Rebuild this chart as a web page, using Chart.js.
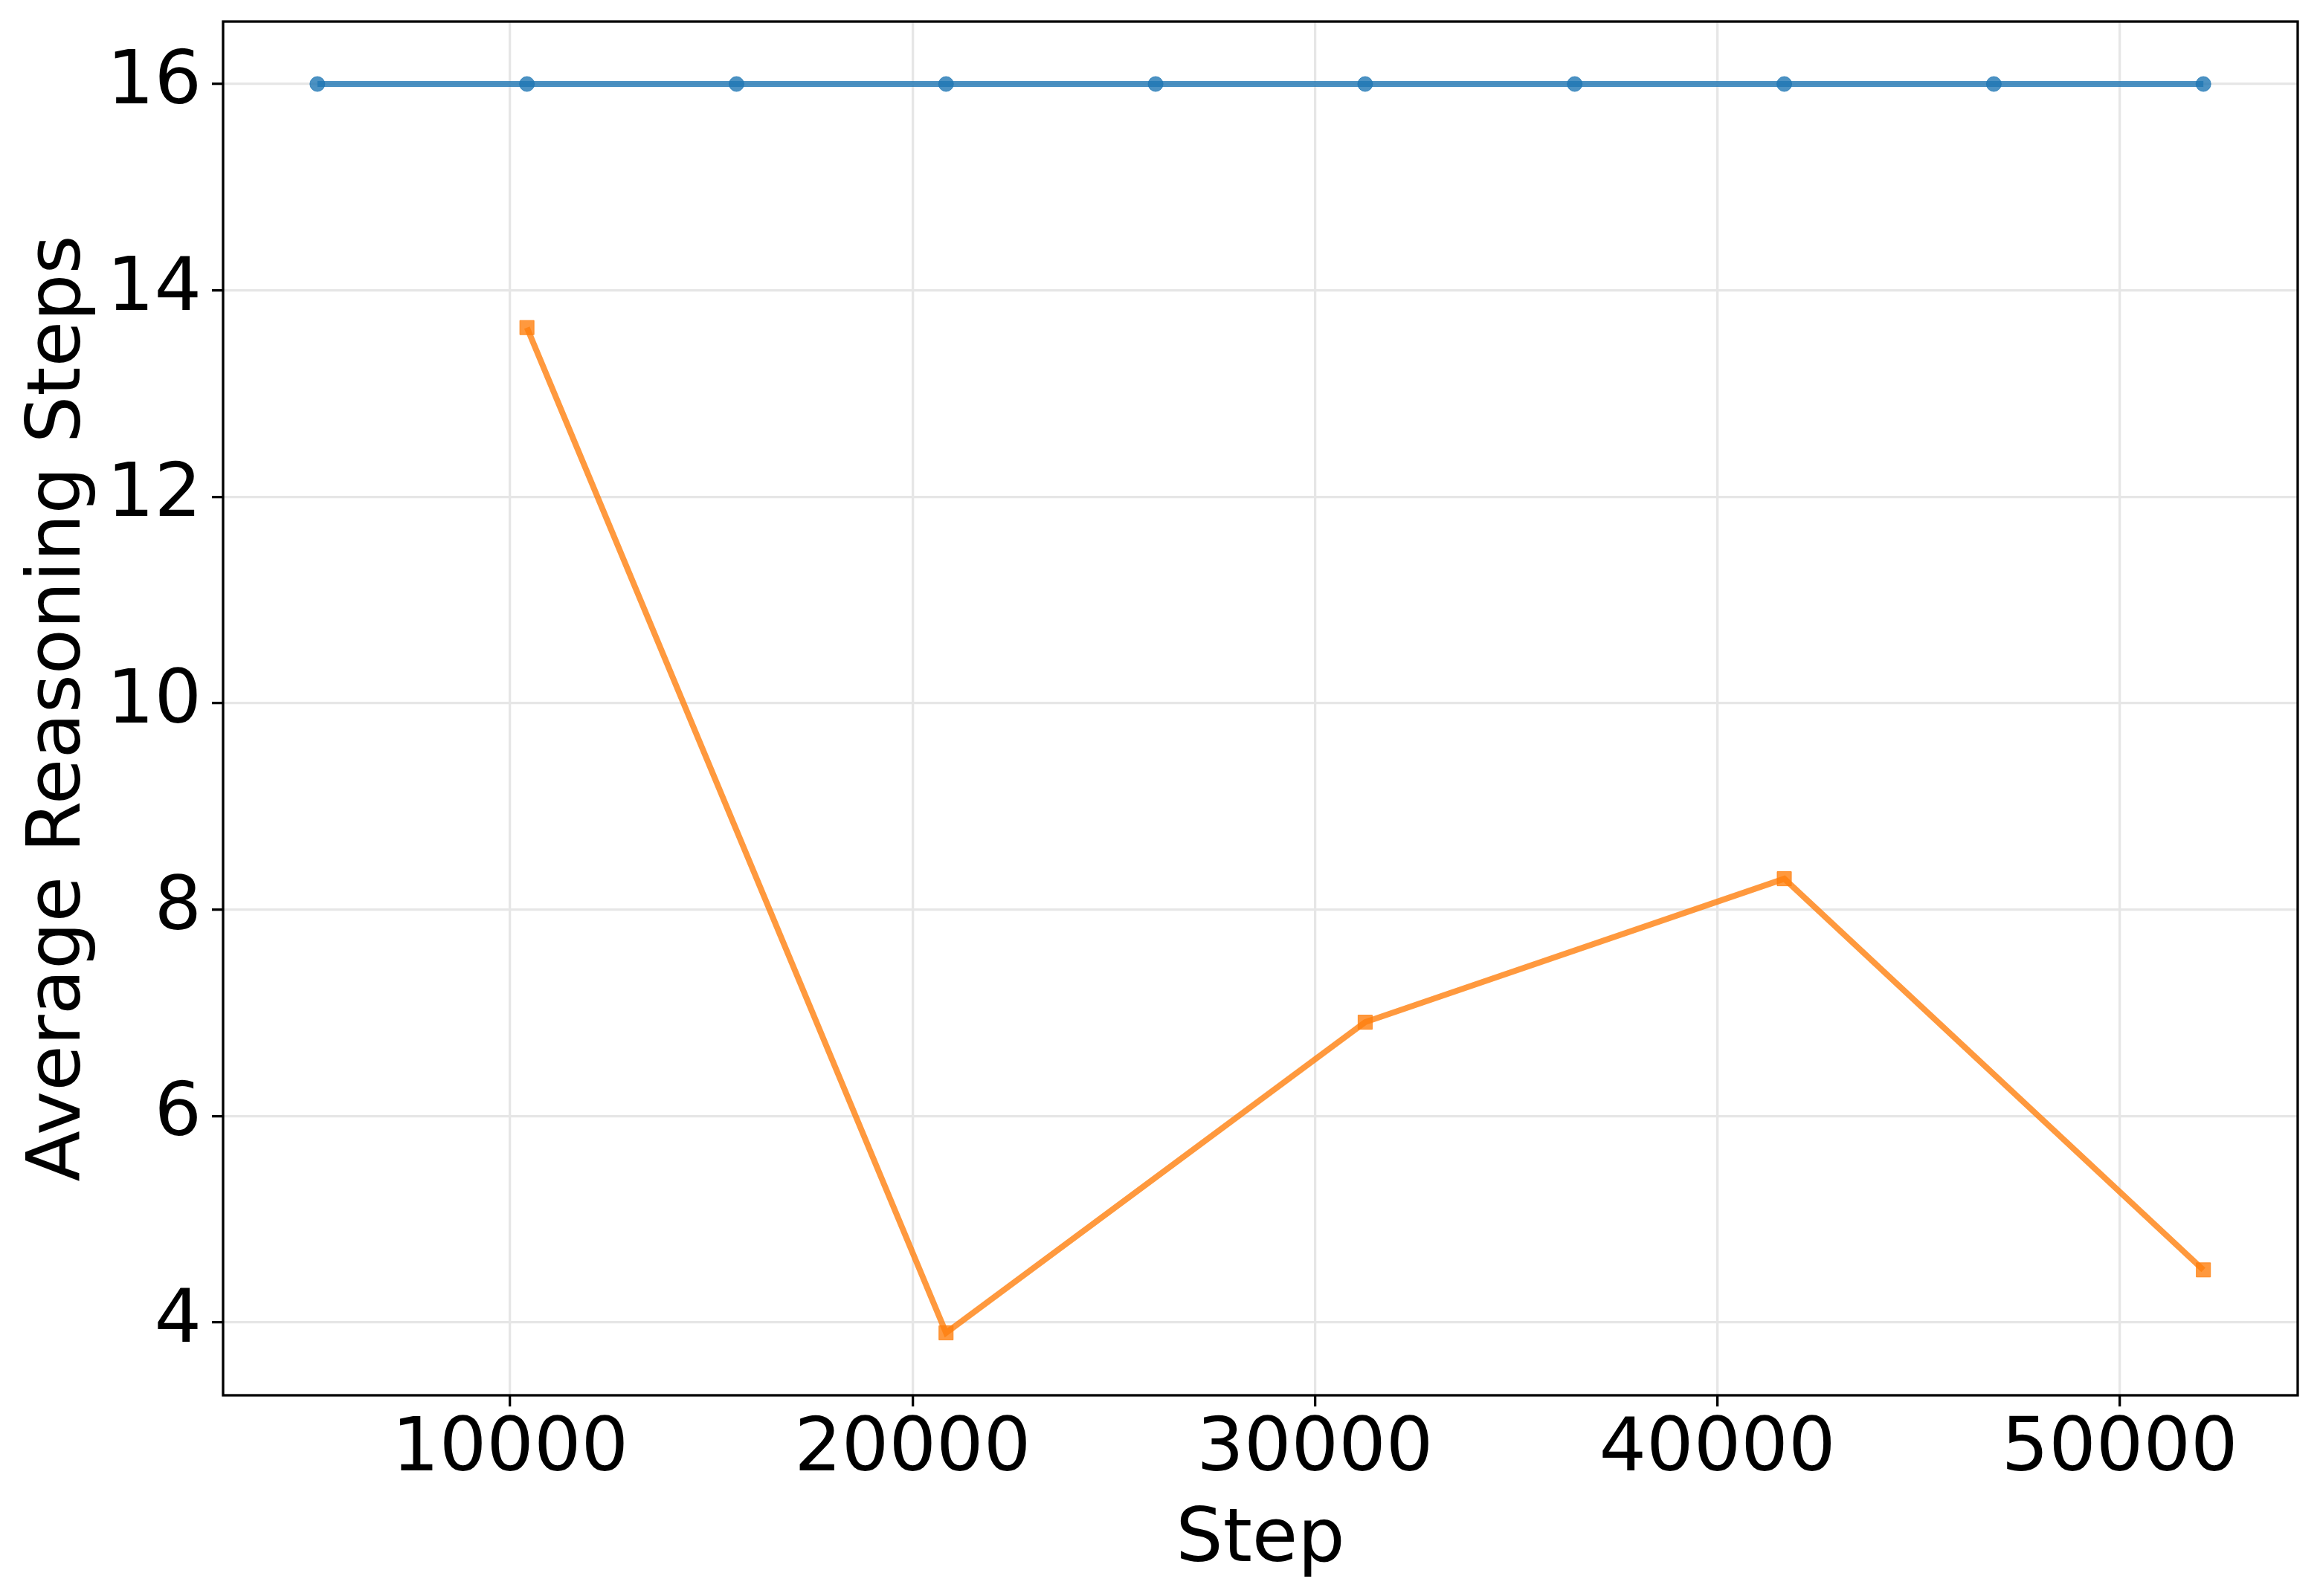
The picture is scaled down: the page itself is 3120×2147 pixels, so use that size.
<!DOCTYPE html>
<html>
<head>
<meta charset="utf-8">
<script src="https://cdn.jsdelivr.net/npm/chart.js@4/dist/chart.umd.min.js"></script>
<style>
  html, body { margin: 0; padding: 0; background: #ffffff; }
  canvas { display: block; }
</style>
</head>
<body>
<canvas id="c" width="3120" height="2147"></canvas>
<script>
// ---- data ----
const stepsBlue = [5208, 10416, 15624, 20832, 26040, 31248, 36456, 41664, 46872, 52080];
const valuesBlue = [16, 16, 16, 16, 16, 16, 16, 16, 16, 16];
const stepsOrange = [10416, 20832, 31248, 41664, 52080];
const valuesOrange = [13.64, 3.90, 6.91, 8.30, 4.51];
const xTickValues = [10000, 20000, 30000, 40000, 50000];
const yTickValues = [4, 6, 8, 10, 12, 14, 16];
const xTitle = 'Step';
const yTitle = 'Average Reasoning Steps';

const FONT = 'DejaVu Sans';
const blue = 'rgba(31,119,180,0.8)';
const orange = 'rgba(255,127,14,0.8)';
const gridColor = '#e6e6e6';

const frame = {
  id: 'frame',
  afterDatasetsDraw(chart) {
    const a = chart.chartArea, ctx = chart.ctx;
    ctx.save();
    ctx.strokeStyle = '#000';
    ctx.lineWidth = 3.3;
    ctx.strokeRect(a.left, a.top, a.right - a.left, a.bottom - a.top);
    ctx.restore();
  }
};

new Chart(document.getElementById('c'), {
  type: 'line',
  data: {
    datasets: [
      {
        data: stepsBlue.map((s, i) => ({ x: s, y: valuesBlue[i] })),
        borderColor: blue,
        backgroundColor: blue,
        borderWidth: 8,
        pointStyle: 'circle',
        pointRadius: 10,
        pointBackgroundColor: blue,
        pointBorderColor: blue,
        pointBorderWidth: 1,
        tension: 0,
        fill: false
      },
      {
        data: stepsOrange.map((s, i) => ({ x: s, y: valuesOrange[i] })),
        borderColor: orange,
        backgroundColor: orange,
        borderWidth: 8,
        pointStyle: 'rect',
        pointRadius: 13.5,
        pointBackgroundColor: orange,
        pointBorderColor: orange,
        pointBorderWidth: 1,
        tension: 0,
        fill: false
      }
    ]
  },
  options: {
    responsive: false,
    animation: false,
    devicePixelRatio: 1,
    layout: { padding: { left: 0, right: 30, top: 29, bottom: 0 } },
    plugins: { legend: { display: false }, tooltip: { enabled: false } },
    scales: {
      x: {
        type: 'linear',
        min: 2864.4,
        max: 54423.6,
        afterBuildTicks: s => { s.ticks = xTickValues.map(v => ({ value: v })); },
        afterFit: s => { s.height = 270; s.paddingLeft = 0; s.paddingRight = 0; },
        grid: { color: gridColor, lineWidth: 3.3, drawTicks: true, tickLength: 15, tickColor: '#000', tickWidth: 3.3 },
        border: { display: false },
        ticks: { color: '#000', font: { family: FONT, size: 100 }, padding: 0, maxRotation: 0, autoSkip: false,
                 callback: v => String(v) },
        title: { display: true, text: xTitle, color: '#000', font: { family: FONT, size: 100 }, padding: { top: 0, bottom: 13 } }
      },
      y: {
        type: 'linear',
        min: 3.295,
        max: 16.605,
        afterBuildTicks: s => { s.ticks = yTickValues.map(v => ({ value: v })); },
        afterFit: s => { s.width = 300; s.paddingTop = 0; s.paddingBottom = 0; },
        grid: { color: gridColor, lineWidth: 3.3, drawTicks: true, tickLength: 15, tickColor: '#000', tickWidth: 3.3 },
        border: { display: false },
        ticks: { color: '#000', font: { family: FONT, size: 100 }, padding: 14, autoSkip: false,
                 callback: v => String(v) },
        title: { display: true, text: yTitle, color: '#000', font: { family: FONT, size: 100 }, padding: { top: 21, bottom: 0 } }
      }
    }
  },
  plugins: [frame]
});
</script>
</body>
</html>
